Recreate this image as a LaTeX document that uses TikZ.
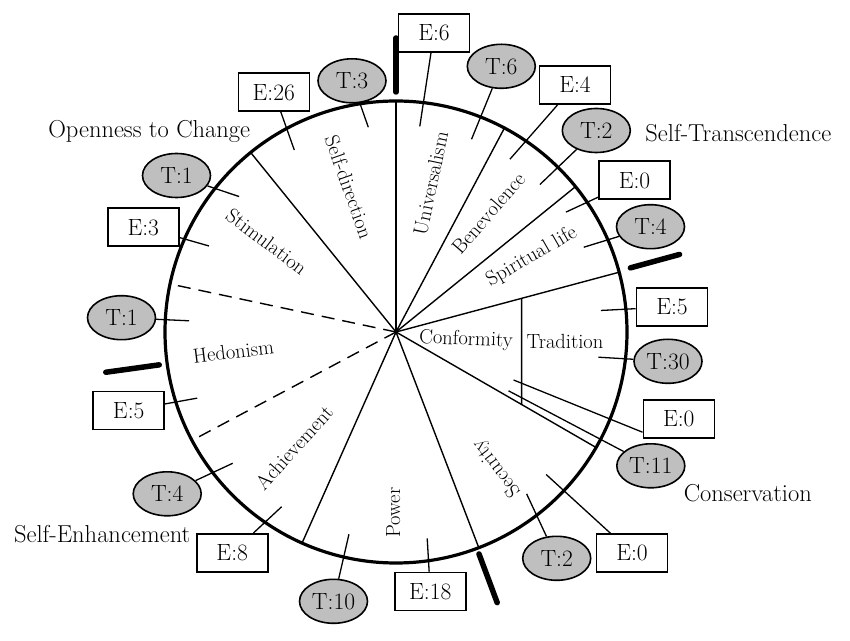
\documentclass[tikz,border=0pt]{standalone}
\usepackage{fontspec}
\usetikzlibrary{shapes.geometric,calc}
\begin{document}
\begin{tikzpicture}[x=1pt,y=1pt,
  ebox/.style={draw, line width=1.6pt, minimum width=71pt, minimum height=38pt, inner sep=0pt, fill=white, font=\fontsize{23.5}{26}\selectfont},
  tell/.style={ellipse, draw, fill=black!25, line width=1.6pt, minimum width=68pt, minimum height=44pt, inner sep=0pt, font=\fontsize{23.5}{26}\selectfont},
  conn/.style={line width=1.3pt},
  spoke/.style={line width=1.4pt},
  dspoke/.style={line width=1.4pt, dash pattern=on 13pt off 8pt},
  grpmark/.style={line width=5.5pt, line cap=round},
  sector/.style={font=\fontsize{20.5}{23}\selectfont, inner sep=0pt},
  cat/.style={font=\fontsize{24.5}{27}\selectfont, inner sep=0pt, anchor=base}
]
\useasboundingbox (0,0) rectangle (850,640);
\node[circle, draw, line width=3.2pt, minimum size=462pt, inner sep=0pt, outer sep=0pt] (wheel) at (396,308) {};
\coordinate (c) at (wheel.center);

% spokes
\draw[spoke] (c) -- (wheel.90);
\draw[spoke] (c) -- (wheel.62.5);
\draw[spoke] (c) -- (wheel.39);
\draw[spoke] (c) -- (wheel.15);
\draw[spoke] (c) -- (wheel.-30);
\draw[spoke] (c) -- (wheel.-69.5);
\draw[spoke] (c) -- (wheel.246.7);
\draw[dspoke] (c) -- (wheel.208.8);
\draw[dspoke] (c) -- (wheel.168.1);
\draw[spoke] (c) -- (wheel.129.1);
\coordinate (dtop) at ($(c)+(15:130.1)$);
\coordinate (dbot) at ($(c)+(-30:145.1)$);
\draw[spoke] (dtop) -- (dbot);

% group markers
\coordinate (m1a) at ($(c)+(90:240)$);  \coordinate (m1b) at ($(c)+(90:294)$);
\coordinate (m2a) at ($(c)+(15.3:243)$); \coordinate (m2b) at ($(c)+(15.3:294)$);
\coordinate (m3a) at ($(c)+(187.9:239)$); \coordinate (m3b) at ($(c)+(187.9:293)$);
\coordinate (m4a) at ($(c)+(-69.5:237)$); \coordinate (m4b) at ($(c)+(-69.5:289)$);
\draw[grpmark] (m1a) -- (m1b);
\draw[grpmark] (m2a) -- (m2b);
\draw[grpmark] (m3a) -- (m3b);
\draw[grpmark] (m4a) -- (m4b);

% sector labels
\node[sector, rotate=-70.5] (sd) at (349,453) {Self-direction};
\node[sector, rotate=-37] (st) at (266.7,398.3) {Stimulation};
\node[sector, rotate=7] (he) at (233.3,288.3) {Hedonism};
\node[sector, rotate=48] (ac) at (294,192.5) {Achievement};
\node[sector, rotate=90] (po) at (393.3,127.5) {Power};
\node[sector, rotate=127] (se) at (496.7,171.7) {Security};
\node[sector, rotate=-2] (co) at (466,300) {Conformity};
\node[sector] (tr) at (565,299) {Tradition};
\node[sector, rotate=30] (sp) at (531.7,383.3) {Spiritual life};
\node[sector, rotate=49] (be) at (488.3,426.7) {Benevolence};
\node[sector, rotate=78] (un) at (430.8,456.7) {Universalism};

% category labels
\node[cat] (oc) at (149.2,502.3) {Openness to Change};
\node[cat] (stx) at (738.3,498.3) {Self-Transcendence};
\node[cat] (cons) at (747.8,138.3) {Conservation};
\node[cat] (seh) at (102.2,97.7) {Self-Enhancement};

% count nodes
\node[ebox] (E6) at (434,607) {E:6};
\node[tell] (T6) at (501.3,573.7) {T:6};
\node[ebox] (E4) at (575,555) {E:4};
\node[tell] (T2a) at (596.3,509.5) {T:2};
\node[ebox] (E0a) at (634.5,459.7) {E:0};
\node[tell] (T4a) at (650.5,413.3) {T:4};
\node[ebox] (E5a) at (672,333.2) {E:5};
\node[tell] (T30) at (668,278.7) {T:30};
\node[ebox] (E0b) at (678.8,221) {E:0};
\node[tell] (T11) at (650.8,174.2) {T:11};
\node[ebox] (E0c) at (632,87) {E:0};
\node[tell] (T2b) at (556.7,81.7) {T:2};
\node[ebox] (E18) at (430.3,48.5) {E:18};
\node[tell] (T10) at (333.5,38.7) {T:10};
\node[ebox] (E8) at (232.2,87.2) {E:8};
\node[tell] (T4b) at (167.2,146.2) {T:4};
\node[ebox] (E5b) at (128.7,229.5) {E:5};
\node[tell] (T1b) at (121.5,322.3) {T:1};
\node[ebox] (E3) at (143.3,412.8) {E:3};
\node[tell] (T1a) at (176.5,464.5) {T:1};
\node[ebox] (E26) at (273.8,547.8) {E:26};
\node[tell] (T3) at (352,559.2) {T:3};

% connectors
\coordinate (iE6) at ($(c)+(83.4:207)$);
\coordinate (iT6) at ($(c)+(68.6:207)$);
\coordinate (iE4) at ($(c)+(56.6:207)$);
\coordinate (iT2a) at ($(c)+(45.7:206)$);
\coordinate (iE0a) at ($(c)+(35.2:208)$);
\coordinate (iT4a) at ($(c)+(24.3:206)$);
\coordinate (iE5a) at ($(c)+(6:206)$);
\coordinate (iT30) at ($(c)+(-7.1:204)$);
\coordinate (iE0b) at ($(c)+(-22.2:127)$);
\coordinate (iT11) at ($(c)+(-27.6:127)$);
\coordinate (iE0c) at ($(c)+(-43.5:207)$);
\coordinate (iT2b) at ($(c)+(-51.1:208)$);
\coordinate (iE18) at ($(c)+(-81.4:208.7)$);
\coordinate (iT10) at ($(c)+(-103.1:207.7)$);
\coordinate (iE8) at ($(c)+(-123.2:208.8)$);
\coordinate (iT4b) at ($(c)+(-141.2:209.5)$);
\coordinate (iE5b) at ($(c)+(-161.6:209.5)$);
\coordinate (iT1b) at ($(c)+(176.9:207.3)$);
\coordinate (iE3) at ($(c)+(155.3:205.8)$);
\coordinate (iT1a) at ($(c)+(139.2:207.3)$);
\coordinate (iE26) at ($(c)+(119.2:208.5)$);
\coordinate (iT3) at ($(c)+(97.7:206.6)$);

\draw[conn] (iE6) -- (E6);
\draw[conn] (iT6) -- (T6);
\draw[conn] (iE4) -- (E4);
\draw[conn] (iT2a) -- (T2a);
\draw[conn] (iE0a) -- (E0a);
\draw[conn] (iT4a) -- (T4a);
\draw[conn] (iE5a) -- (E5a);
\draw[conn] (iT30) -- (T30);
\draw[conn] (iE0b) -- (E0b.200);
\draw[conn] (iT11) -- (T11);
\draw[conn] (iE0c) -- (E0c);
\draw[conn] (iT2b) -- (T2b);
\draw[conn] (iE18) -- (E18);
\draw[conn] (iT10) -- (T10);
\draw[conn] (iE8) -- (E8);
\draw[conn] (iT4b) -- (T4b);
\draw[conn] (iE5b) -- (E5b);
\draw[conn] (iT1b) -- (T1b);
\draw[conn] (iE3) -- (E3);
\draw[conn] (iT1a) -- (T1a);
\draw[conn] (iE26) -- (E26);
\draw[conn] (iT3) -- (T3);
\end{tikzpicture}
\end{document}
